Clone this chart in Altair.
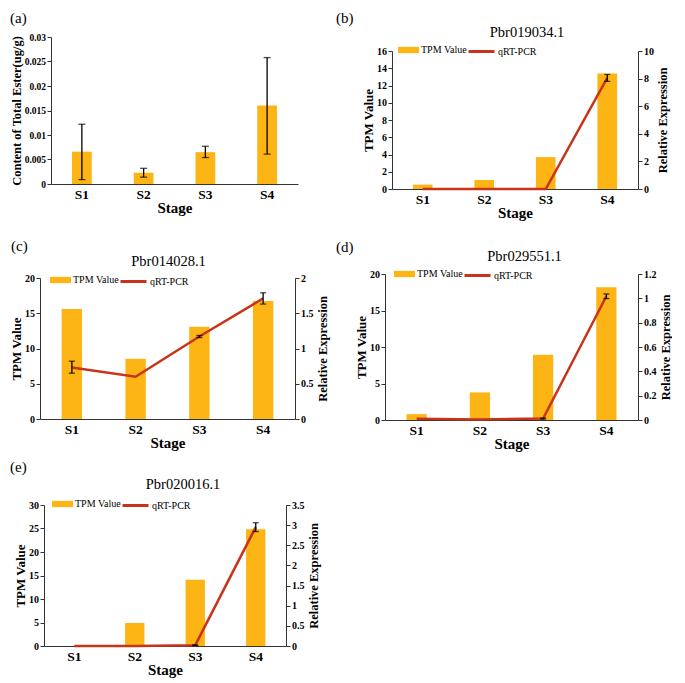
import altair as alt
import pandas as pd

# ---------------- data ----------------
stages = ["S1", "S2", "S3", "S4"]

# (a) total ester content
ester_mean = [0.0066, 0.0023, 0.0065, 0.0160]
ester_low = [0.0009, 0.0014, 0.0054, 0.0061]
ester_high = [0.0122, 0.0032, 0.0077, 0.0258]
a_ticks = [0, 0.005, 0.01, 0.015, 0.02, 0.025, 0.03]

# (b) Pbr019034.1
b_tpm = [0.5, 1.04, 3.7, 13.4]
b_qrt = [0.0, 0.0, 0.0, 8.05]
b_low = [None, None, None, 7.8]
b_high = [None, None, None, 8.3]
b_left_ticks = [0, 2, 4, 6, 8, 10, 12, 14, 16]
b_right_ticks = [0, 2, 4, 6, 8, 10]

# (c) Pbr014028.1
c_tpm = [15.6, 8.55, 13.1, 16.75]
c_qrt = [0.73, 0.6, 1.17, 1.71]
c_low = [0.65, None, 1.155, 1.63]
c_high = [0.82, None, 1.185, 1.79]
c_left_ticks = [0, 5, 10, 15, 20]
c_right_ticks = [0, 0.5, 1, 1.5, 2]

# (d) Pbr029551.1
d_tpm = [0.8, 3.78, 8.95, 18.2]
d_qrt = [0.01, 0.004, 0.012, 1.017]
d_low = [None, None, 0.008, 0.998]
d_high = [None, None, 0.016, 1.036]
d_left_ticks = [0, 5, 10, 15, 20]
d_right_ticks = [0, 0.2, 0.4, 0.6, 0.8, 1, 1.2]

# (e) Pbr020016.1
e_tpm = [0.0, 4.9, 14.1, 24.85]
e_qrt = [0.0, 0.003, 0.02, 2.95]
e_low = [None, None, 0.01, 2.84]
e_high = [None, None, 0.03, 3.06]
e_left_ticks = [0, 5, 10, 15, 20, 25, 30]
e_right_ticks = [0, 0.5, 1, 1.5, 2, 2.5, 3, 3.5]

# ---------------- style ----------------
SERIF = "Liberation Serif"
ORANGE = "#FDB515"
RED = "#C8341A"
AX = "#333333"
RES = dict(color="independent", stroke="independent")


def xenc():
    return alt.X(
        "Stage:N",
        sort=stages,
        scale=alt.Scale(paddingInner=0.68, paddingOuter=0.34),
        axis=alt.Axis(
            title="Stage", labelAngle=0, ticks=False,
            labelFont=SERIF, labelFontSize=13.5, labelFontWeight="bold",
            labelColor="black", labelPadding=3,
            titleFont=SERIF, titleFontSize=15, titleFontWeight="bold",
            titleColor="black", titlePadding=0,
            domainColor=AX, domainWidth=1,
        ),
    )


def yaxis(values, title, orient="left", title_size=13, pad=1.5, lsize=10):
    kw = dict(
        values=values, format="~r", title=title, orient=orient,
        labelFont=SERIF, labelFontSize=lsize, labelFontWeight="bold",
        labelColor="black", labelPadding=1.5,
        tickSize=4, tickColor=AX, tickWidth=1,
        domainColor=AX, domainWidth=1,
        titleFont=SERIF, titleFontSize=title_size, titleFontWeight="bold",
        titleColor="black", titlePadding=pad,
    )
    if orient == "right":
        kw["titleAngle"] = 270
        kw["titleBaseline"] = "top"
    return alt.Axis(**kw)


def text_layer(txt, dx, dy, size, align):
    return alt.Chart(pd.DataFrame({"t": [txt]})).mark_text(
        font=SERIF, fontSize=size, align=align, baseline="middle", color="black"
    ).encode(text="t:N", x=alt.value(dx), y=alt.value(dy))


def spacer(h):
    return alt.Chart(pd.DataFrame({"z": [0]})).mark_rect(opacity=0).encode(
        x=alt.value(0), x2=alt.value(1), y=alt.value(0), y2=alt.value(1)
    ).properties(width=1, height=h)


def hwrap(panel):
    return alt.hconcat(spacer(1), panel, spacing=1).resolve_scale(**RES)


def gene_panel(gene, tag, tpm, qrt, lo, hi, lticks, rticks, w, h,
               tag_dx, tag_dy, title_dx, title_dy, leg_x, leg_y):
    df = pd.DataFrame({
        "Stage": stages, "TPM": tpm, "qRT": qrt, "lo": lo, "hi": hi,
        "k1": ["TPM Value"] * 4, "k2": ["qRT-PCR"] * 4,
    })
    lmax, rmax = lticks[-1], rticks[-1]
    bars = alt.Chart(df).mark_bar().encode(
        x=xenc(),
        y=alt.Y("TPM:Q", scale=alt.Scale(domain=[0, lmax], nice=False),
                axis=yaxis(lticks, "TPM Value")),
        color=alt.Color(
            "k1:N", scale=alt.Scale(domain=["TPM Value"], range=[ORANGE]),
            legend=alt.Legend(
                title=None, orient="none", legendX=leg_x, legendY=leg_y - 10.5,
                symbolType="M-1,-0.3H1V0.3H-1Z", symbolSize=441,
                symbolStrokeWidth=0, symbolOpacity=1,
                labelFont=SERIF, labelFontSize=10, labelColor="black",
                labelOffset=2, padding=0,
            ),
        ),
    )
    rscale = alt.Scale(domain=[0, rmax], nice=False)
    raxis = yaxis(rticks, "Relative Expression", orient="right",
                  title_size=12.5, pad=3)
    line = alt.Chart(df).mark_line(strokeWidth=2.5).encode(
        x=xenc(),
        y=alt.Y("qRT:Q", scale=rscale, axis=raxis),
        stroke=alt.Stroke(
            "k2:N", scale=alt.Scale(domain=["qRT-PCR"], range=[RED]),
            legend=alt.Legend(
                title=None, orient="none", legendX=leg_x + 69, legendY=leg_y - 13,
                symbolType="stroke", symbolSize=676, symbolStrokeWidth=3,
                labelFont=SERIF, labelFontSize=10, labelColor="black",
                labelOffset=2, padding=0,
            ),
        ),
    )
    rule = alt.Chart(df).mark_rule(color="black", strokeWidth=1.3).encode(
        x=xenc(), y=alt.Y("lo:Q", scale=rscale, axis=raxis), y2="hi:Q")
    cap_lo = alt.Chart(df).mark_tick(color="black", thickness=1.3, size=6).encode(
        x=xenc(), y=alt.Y("lo:Q", scale=rscale, axis=raxis))
    cap_hi = alt.Chart(df).mark_tick(color="black", thickness=1.3, size=6).encode(
        x=xenc(), y=alt.Y("hi:Q", scale=rscale, axis=raxis))
    right = alt.layer(line, rule, cap_lo, cap_hi)
    return alt.layer(
        bars, right,
        text_layer(tag, tag_dx, tag_dy, 15, "left"),
        text_layer(gene, w / 2 + title_dx, title_dy, 14.5, "center"),
    ).resolve_scale(y="independent").properties(width=w, height=h)


# ---------------- panel (a) ----------------
df_a = pd.DataFrame({"Stage": stages, "v": ester_mean, "lo": ester_low, "hi": ester_high})
ascale = alt.Scale(domain=[0, 0.03], nice=False)
aaxis = yaxis(a_ticks, "Content of Total Ester(ug/g)", title_size=12.5, pad=1, lsize=9.5)
a_bars = alt.Chart(df_a).mark_bar(color=ORANGE).encode(
    x=xenc(), y=alt.Y("v:Q", scale=ascale, axis=aaxis))
a_rule = alt.Chart(df_a).mark_rule(color="black", strokeWidth=1.3).encode(
    x=xenc(), y=alt.Y("lo:Q", scale=ascale, axis=aaxis), y2="hi:Q")
a_cap_lo = alt.Chart(df_a).mark_tick(color="black", thickness=1.3, size=7).encode(
    x=xenc(), y=alt.Y("lo:Q", scale=ascale, axis=aaxis))
a_cap_hi = alt.Chart(df_a).mark_tick(color="black", thickness=1.3, size=7).encode(
    x=xenc(), y=alt.Y("hi:Q", scale=ascale, axis=aaxis))
panel_a = alt.layer(
    a_bars, a_rule, a_cap_lo, a_cap_hi,
    text_layer("(a)", -41, -19.5, 15, "left"),
).properties(width=247, height=147)

panel_b = gene_panel("Pbr019034.1", "(b)", b_tpm, b_qrt, b_low, b_high,
                     b_left_ticks, b_right_ticks, 246, 138,
                     -56, -33.5, 12, -18, 6, -1)
panel_c = gene_panel("Pbr014028.1", "(c)", c_tpm, c_qrt, c_low, c_high,
                     c_left_ticks, c_right_ticks, 255, 141,
                     -29, -32, 1, -16, 10, 2)
panel_d = gene_panel("Pbr029551.1", "(d)", d_tpm, d_qrt, d_low, d_high,
                     d_left_ticks, d_right_ticks, 253, 146,
                     -49, -27, 13, -17, 9, 0)
panel_e = gene_panel("Pbr020016.1", "(e)", e_tpm, e_qrt, e_low, e_high,
                     e_left_ticks, e_right_ticks, 242, 141,
                     -34, -38, 18, -20, 8, -1)

left_col = alt.vconcat(
    spacer(1), hwrap(panel_a),
    spacer(21), hwrap(panel_c),
    spacer(7), hwrap(panel_e),
    spacing=1,
).resolve_scale(**RES)
right_col = alt.vconcat(
    spacer(1), hwrap(panel_b),
    spacer(17), hwrap(panel_d),
    spacing=1,
).resolve_scale(**RES)

chart = (
    alt.hconcat(left_col, right_col, spacing=5)
    .resolve_scale(**RES)
    .properties(padding=0)
    .configure_view(stroke=None)
    .configure_axis(grid=False)
    .configure_legend(labelFont=SERIF, labelFontSize=10, labelColor="black")
)

chart.save("out.html", embed_options={"renderer": "svg", "actions": False})
